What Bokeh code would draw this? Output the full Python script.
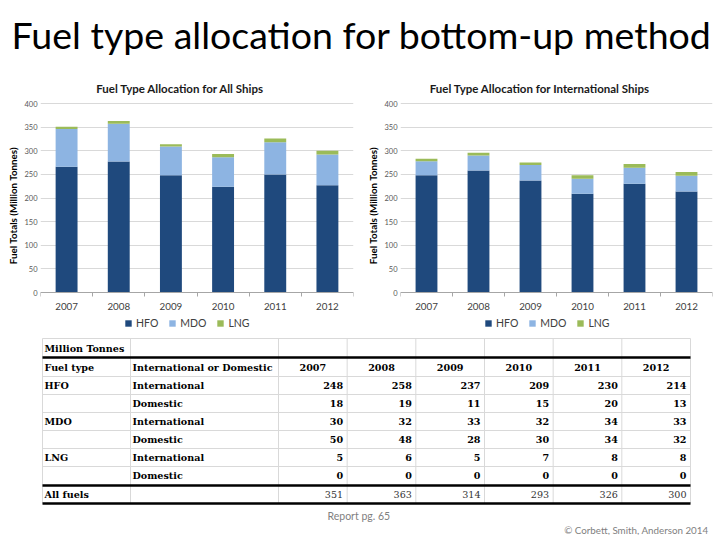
from bokeh.plotting import figure
from bokeh.models import (ColumnDataSource, Range1d, FixedTicker, Label, Legend,
                          LinearAxis)
from bokeh.layouts import column, row
from bokeh.core.properties import value
from bokeh.embed import file_html
from bokeh.resources import INLINE

# ---------------- data ----------------
years = ["2007", "2008", "2009", "2010", "2011", "2012"]
fuel_types = ["HFO", "MDO", "LNG"]
hfo_int = [248, 258, 237, 209, 230, 214]
hfo_dom = [18, 19, 11, 15, 20, 13]
mdo_int = [30, 32, 33, 32, 34, 33]
mdo_dom = [50, 48, 28, 30, 34, 32]
lng_int = [5, 6, 5, 7, 8, 8]
lng_dom = [0, 0, 0, 0, 0, 0]
all_fuels = [351, 363, 314, 293, 326, 300]
y_ticks = [0, 50, 100, 150, 200, 250, 300, 350, 400]

main_title = "Fuel type allocation for bottom-up method"
chart_titles = ["Fuel Type Allocation for All Ships",
                "Fuel Type Allocation for International Ships"]
y_label = "Fuel Totals (Million Tonnes)"
table_unit = "Million Tonnes"
table_head = ["Fuel type", "International or Domestic"]
scope_names = ["International", "Domestic"]
total_name = "All fuels"
footer_left = "Report pg. 65"
footer_right = "\u00a9 Corbett, Smith, Anderson 2014"

COLORS = ["#1F497D", "#8DB4E2", "#9BBB59"]
FONT = "Lato"
SERIF = "DejaVu Serif"

TITLE_H = 75
CHART_H = 260
TABLE_H = 200
TABLE_TOP = TITLE_H + CHART_H

# chart frame geometry (pixels inside the chart figure)
Y_TOP_PX = 28        # y=400 gridline below the figure top
Y_ZERO_PX = 217      # y=0 axis below the figure top
PX_PER_UNIT = (Y_ZERO_PX - Y_TOP_PX) / 400.0


def make_chart(title_text, hfo, mdo, lng, bl, br):
    ylo = -(CHART_H - Y_ZERO_PX) / PX_PER_UNIT
    yhi = 400 + Y_TOP_PX / PX_PER_UNIT
    p = figure(width=360, height=CHART_H, x_range=Range1d(0, 6),
               y_range=Range1d(ylo, yhi), x_axis_location=None,
               min_border_left=bl, min_border_right=br, min_border_top=0,
               min_border_bottom=0, toolbar_location=None, output_backend="svg")
    xs = [i + 0.5 for i in range(len(years))]
    src = ColumnDataSource(data=dict(x=xs, HFO=hfo, MDO=mdo, LNG=lng))
    rs = p.vbar_stack(fuel_types, x="x", width=0.42, color=COLORS, source=src,
                      line_color=None)

    xa = LinearAxis(fixed_location=0,
                    ticker=FixedTicker(ticks=xs, minor_ticks=list(range(len(years) + 1))),
                    major_label_overrides={x: y for x, y in zip(xs, years)})
    xa.major_tick_line_color = None
    xa.major_tick_out = 0
    xa.major_tick_in = 0
    xa.minor_tick_line_color = "#a6a6a6"
    xa.minor_tick_in = 0
    xa.minor_tick_out = 4
    xa.axis_line_color = "#a6a6a6"
    xa.major_label_text_font = FONT
    xa.major_label_text_font_size = "9.8px"
    xa.major_label_text_color = "#404040"
    xa.major_label_standoff = 6
    p.add_layout(xa, "below")

    p.yaxis.ticker = FixedTicker(ticks=y_ticks)
    p.yaxis.axis_line_color = None
    p.yaxis.major_tick_line_color = None
    p.yaxis.minor_tick_line_color = None
    p.yaxis.major_tick_out = 0
    p.yaxis.major_tick_in = 0
    p.yaxis.minor_tick_out = 0
    p.yaxis.minor_tick_in = 0
    p.yaxis.major_label_text_font = FONT
    p.yaxis.major_label_text_font_size = "7.5px"
    p.yaxis.major_label_text_color = "#595959"
    p.yaxis.major_label_standoff = 3
    p.yaxis.axis_label = y_label
    p.yaxis.axis_label_text_font = FONT
    p.yaxis.axis_label_text_font_size = "9.8px"
    p.yaxis.axis_label_text_font_style = "bold"
    p.yaxis.axis_label_text_color = "#000000"
    p.yaxis.axis_label_standoff = 2

    p.xgrid.grid_line_color = None
    p.ygrid.grid_line_color = "#d9d9d9"
    p.outline_line_color = None

    p.add_layout(Label(x=2.68, y=400 + 15 / PX_PER_UNIT, text=title_text,
                       text_font=FONT, text_font_size="11.5px",
                       text_font_style="bold", text_align="center",
                       text_baseline="middle", text_color="#1a1a1a"))

    leg = Legend(items=[(n, [r]) for n, r in zip(fuel_types, rs)],
                 location=(84, 6), orientation="horizontal",
                 glyph_width=8, glyph_height=8, label_height=12,
                 label_text_font=FONT, label_text_font_size="10.5px",
                 label_text_color="#404040", label_standoff=4, spacing=10,
                 padding=0, margin=0, background_fill_alpha=0,
                 border_line_color=None)
    p.add_layout(leg, "center")
    return p


hfo_all = [a + b for a, b in zip(hfo_int, hfo_dom)]
mdo_all = [a + b for a, b in zip(mdo_int, mdo_dom)]
lng_all = [a + b for a, b in zip(lng_int, lng_dom)]

c1 = make_chart(chart_titles[0], hfo_all, mdo_all, lng_all, 40, 7)
c2 = make_chart(chart_titles[1], hfo_int, mdo_int, lng_int, 40, 8)


def blank(w, h):
    p = figure(width=w, height=h, x_range=Range1d(0, w), y_range=Range1d(h, 0),
               min_border=0, toolbar_location=None, output_backend="svg")
    p.axis.visible = False
    p.grid.visible = False
    p.outline_line_color = None
    return p


# ---------------- title ----------------
tfig = blank(720, TITLE_H)
tfig.text(x=[11], y=[34], text=[main_title], text_font=value(FONT),
          text_font_size="37.5px", text_baseline="middle", text_color="#000000")

# ---------------- table ----------------
tab = blank(720, TABLE_H)


def ty_(y):
    return y - TABLE_TOP


left_x, c1x, c2x, right_x = 42, 130, 278, 690
ncol = len(years)
colw = (right_x - c2x) / ncol
col_edges = [c2x + i * colw for i in range(ncol + 1)]
top_y, head_top, body_top, row_h = ty_(338), ty_(357), ty_(376), 18
n_body = len(fuel_types) * len(scope_names)
tot_top = ty_(485)
bot_y = ty_(503)

hx0, hx1, hy = [], [], []
for yy in [top_y] + [body_top + i * row_h for i in range(n_body)]:
    hx0.append(left_x); hx1.append(right_x); hy.append(yy)
tab.segment(x0=hx0, y0=hy, x1=hx1, y1=hy, line_color="#d9d9d9", line_width=1)
vxs = [left_x, c1x] + col_edges
tab.segment(x0=vxs, y0=[top_y] * len(vxs), x1=vxs, y1=[bot_y] * len(vxs),
            line_color="#d9d9d9", line_width=1)
tys = [head_top, tot_top, bot_y]
tab.segment(x0=[left_x] * 3, y0=tys, x1=[right_x] * 3, y1=tys,
            line_color="#000000", line_width=2.5)

tx, ty, tt = [], [], []
tx.append(left_x + 2); ty.append((top_y + head_top) / 2); tt.append(table_unit)
hyc = (head_top + body_top) / 2
tx += [left_x + 2, c1x + 2]; ty += [hyc, hyc]; tt += table_head
body_vals = [hfo_int, hfo_dom, mdo_int, mdo_dom, lng_int, lng_dom]
for i in range(n_body):
    yc = body_top + i * row_h + row_h / 2
    if i % 2 == 0:
        tx.append(left_x + 2); ty.append(yc); tt.append(fuel_types[i // 2])
    tx.append(c1x + 2); ty.append(yc); tt.append(scope_names[i % 2])
tyc = (tot_top + bot_y) / 2
tx.append(left_x + 2); ty.append(tyc); tt.append(total_name)
TFS = "9.6px"
tab.text(x=tx, y=ty, text=tt, text_font=value(SERIF), text_font_size=TFS,
         text_font_style="bold", text_baseline="middle", text_color="#000000")

tab.text(x=[(col_edges[i] + col_edges[i + 1]) / 2 for i in range(ncol)],
         y=[hyc] * ncol, text=years, text_font=value(SERIF), text_font_size=TFS,
         text_font_style="bold", text_baseline="middle", text_align="center",
         text_color="#000000")
nx, ny, nt = [], [], []
for i, vals in enumerate(body_vals):
    yc = body_top + i * row_h + row_h / 2
    for j, v in enumerate(vals):
        nx.append(col_edges[j + 1] - 4); ny.append(yc); nt.append(str(v))
tab.text(x=nx, y=ny, text=nt, text_font=value(SERIF), text_font_size=TFS,
         text_font_style="bold", text_baseline="middle", text_align="right",
         text_color="#000000")
tab.text(x=[col_edges[j + 1] - 4 for j in range(ncol)], y=[tyc] * ncol,
         text=[str(v) for v in all_fuels], text_font=value(SERIF),
         text_font_size=TFS, text_baseline="middle", text_align="right",
         text_color="#333333")

tab.text(x=[327], y=[ty_(515)], text=[footer_left], text_font=value(FONT),
         text_font_size="10.5px", text_baseline="middle", text_color="#7f7f7f")
tab.text(x=[708], y=[ty_(529)], text=[footer_right], text_font=value(FONT),
         text_font_size="9.8px", text_baseline="middle", text_align="right",
         text_color="#7f7f7f")

layout = column(tfig, row(c1, c2), tab)
open("out.html", "w").write(file_html(layout, INLINE))
